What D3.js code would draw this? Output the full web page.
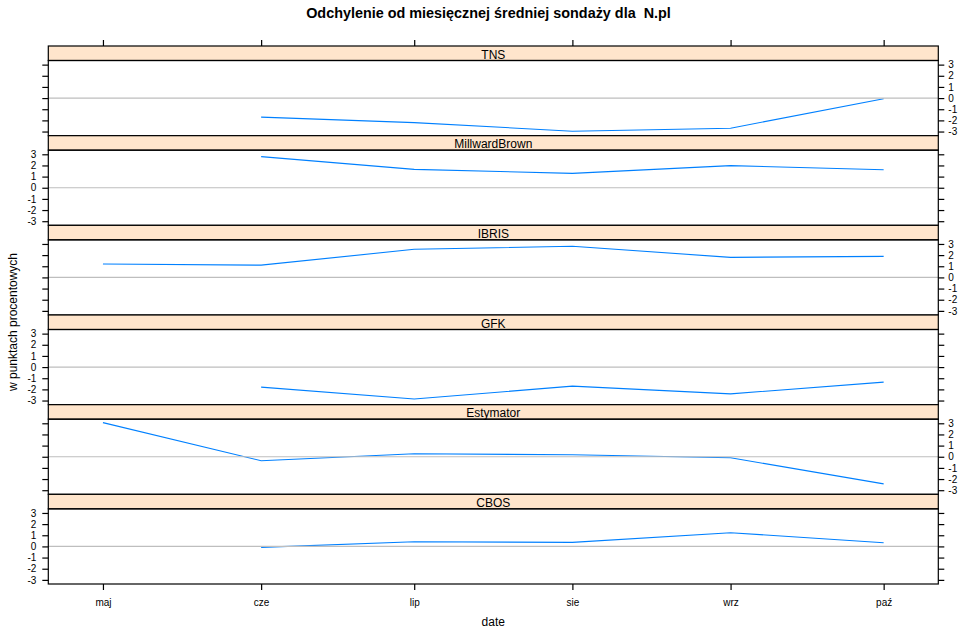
<!DOCTYPE html>
<html>
<head>
<meta charset="utf-8">
<script src="https://cdn.jsdelivr.net/npm/d3@7"></script>
<style>
    body { margin: 0; background: #fff; }
    text { font-family: Arial, "Liberation Sans", sans-serif; }
</style>
</head>
<body>
<div id="chart"></div>
<script>
'use strict';

// months of the survey (first day of each month)
const months = ['2013-05-01', '2013-06-01', '2013-07-01', '2013-08-01', '2013-09-01', '2013-10-01'];
const monthLabels = ['maj', 'cze', 'lip', 'sie', 'wrz', 'paź'];
const yTicks = [-3, -2, -1, 0, 1, 2, 3];

// panels top to bottom
const pollsters = ['TNS', 'MillwardBrown', 'IBRIS', 'GFK', 'Estymator', 'CBOS'];

// deviation from monthly mean, per pollster (null = no poll that month)
const tns           = [null, -1.71, -2.20, -2.97, -2.70, -0.06];
const millwardBrown = [null,  2.79,  1.65,  1.29,  1.98,  1.62];
const ibris         = [1.20,  1.10,  2.52,  2.79,  1.80,  1.89];
const gfk           = [null, -1.80, -2.86, -1.71, -2.40, -1.35];
const estymator     = [3.06, -0.36,  0.27,  0.18, -0.09, -2.43];
const cbos          = [null, -0.09,  0.42,  0.36,  1.23,  0.33];

const seriesValues = [tns, millwardBrown, ibris, gfk, estymator, cbos];

var Charts = function charts() {

    let svg = null;
    let xScale;

    let config = {
        width: 977,
        height: 638,
        left: 48.3,
        right: 938.3,
        top: 46,
        bottom: 584,
        strip: 14.5,
        tick: 6
    };

    // R prints a plain hyphen as minus sign
    let plainNumber = d => String(d);

    let renderSVG = function renderSVG(element) {
        svg = d3.select(element)
            .append('svg')
            .attr('width', config.width)
            .attr('height', config.height);
    }

    let setScale = function setScale(dates) {
        let ext = d3.extent(dates);
        let pad = (ext[1] - ext[0]) * 0.07;
        xScale = d3.scaleTime()
            .domain([new Date(+ext[0] - pad), new Date(+ext[1] + pad)])
            .range([config.left, config.right]);
    }

    let renderTitles = function renderTitles() {
        svg.append('text')
            .attr('x', config.width / 2)
            .attr('y', 17.5)
            .attr('text-anchor', 'middle')
            .attr('font-size', '14.4px')
            .attr('font-weight', 'bold')
            .style('white-space', 'pre')
            .attr('xml:space', 'preserve')
            .text('Odchylenie od miesięcznej średniej sondaży dla  N.pl');

        svg.append('text')
            .attr('x', (config.left + config.right) / 2)
            .attr('y', 626)
            .attr('text-anchor', 'middle')
            .attr('font-size', '12px')
            .text('date');

        svg.append('text')
            .attr('transform', 'translate(17,322) rotate(-90)')
            .attr('text-anchor', 'middle')
            .attr('font-size', '12px')
            .text('w punktach procentowych');
    }

    let drawPanel = function drawPanel(i, name, values, dates) {

        let unit = (config.bottom - config.top) / pollsters.length;
        let stripTop = config.top + i * unit;
        let stripBottom = stripTop + config.strip;
        let panelBottom = stripTop + unit;

        let yScale = d3.scaleLinear()
            .domain([-3.37, 3.37])
            .range([panelBottom, stripBottom]);

        let g = svg.append('g').attr('class', 'panel');

        // strip
        g.append('rect')
            .attr('x', config.left)
            .attr('y', stripTop)
            .attr('width', config.right - config.left)
            .attr('height', config.strip)
            .attr('fill', '#ffe5cc')
            .attr('stroke', '#000')
            .attr('stroke-width', 1.2);

        g.append('text')
            .attr('x', (config.left + config.right) / 2)
            .attr('y', stripBottom - 2)
            .attr('text-anchor', 'middle')
            .attr('font-size', '12px')
            .text(name);

        // data line
        let points = dates.map((d, j) => ({ date: d, value: values[j] }));
        let line = d3.line()
            .defined(d => d.value !== null)
            .x(d => xScale(d.date))
            .y(d => yScale(d.value));

        g.append('path')
            .datum(points)
            .attr('d', line)
            .attr('fill', 'none')
            .attr('stroke', '#0080ff')
            .attr('stroke-width', 1.1);

        // reference line at zero
        g.append('line')
            .attr('x1', config.left)
            .attr('x2', config.right)
            .attr('y1', yScale(0))
            .attr('y2', yScale(0))
            .attr('stroke', '#bebebe')
            .attr('stroke-width', 1.1);

        // panel border
        g.append('rect')
            .attr('x', config.left)
            .attr('y', stripBottom)
            .attr('width', config.right - config.left)
            .attr('height', panelBottom - stripBottom)
            .attr('fill', 'none')
            .attr('stroke', '#000')
            .attr('stroke-width', 1.2);

        // y axes alternate: labels right on even rows, left on odd rows
        let labelsRight = (i % 2 === 0);

        let leftAxis = d3.axisLeft(yScale)
            .tickValues(yTicks)
            .tickSize(config.tick)
            .tickPadding(6)
            .tickFormat(labelsRight ? '' : plainNumber);

        let rightAxis = d3.axisRight(yScale)
            .tickValues(yTicks)
            .tickSize(config.tick)
            .tickPadding(4)
            .tickFormat(labelsRight ? plainNumber : '');

        [[leftAxis, config.left], [rightAxis, config.right]].forEach(a => {
            let ax = g.append('g')
                .attr('transform', 'translate(' + a[1] + ',0)')
                .call(a[0]);
            ax.select('.domain').remove();
            ax.selectAll('line').attr('stroke', '#000').attr('stroke-width', 1.2);
            ax.selectAll('text')
                .attr('font-size', '10px')
                .attr('font-family', 'Arial, "Liberation Sans", sans-serif')
                .attr('fill', '#000');
        });
    }

    let renderXAxes = function renderXAxes(dates) {

        let bottomAxis = d3.axisBottom(xScale)
            .tickValues(dates)
            .tickSize(config.tick)
            .tickPadding(9)
            .tickFormat((d, i) => monthLabels[i]);

        let topAxis = d3.axisTop(xScale)
            .tickValues(dates)
            .tickSize(config.tick)
            .tickFormat('');

        let b = svg.append('g')
            .attr('transform', 'translate(0,' + config.bottom + ')')
            .call(bottomAxis);

        let t = svg.append('g')
            .attr('transform', 'translate(0,' + config.top + ')')
            .call(topAxis);

        [b, t].forEach(ax => {
            ax.select('.domain').remove();
            ax.selectAll('line').attr('stroke', '#000').attr('stroke-width', 1.2);
            ax.selectAll('text')
                .attr('font-size', '10px')
                .attr('font-family', 'Arial, "Liberation Sans", sans-serif')
                .attr('fill', '#000');
        });
    }

    let render = function render(el) {
        let dates = months.map(m => d3.timeParse('%Y-%m-%d')(m));
        renderSVG(el);
        setScale(dates);
        renderTitles();
        pollsters.forEach((p, i) => drawPanel(i, p, seriesValues[i], dates));
        renderXAxes(dates);
    }

    return {
        render: render
    }
}

Charts().render('#chart');
</script>
</body>
</html>
